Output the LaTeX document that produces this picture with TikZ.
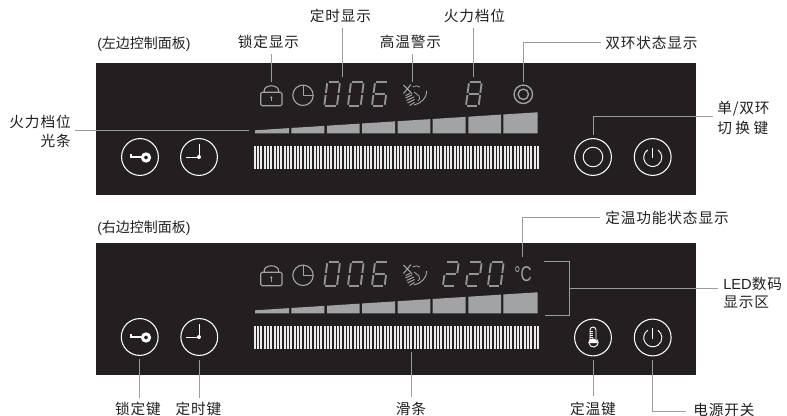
\documentclass[tikz,border=0pt]{standalone}
\usepackage{fontspec}
\setmainfont{Liberation Sans}
\newfontfamily\cjk[LetterSpace=6]{Noto Sans CJK SC}
\newfontfamily\cjkp{Noto Sans CJK SC}
\definecolor{panel}{HTML}{231F20}
\definecolor{lead}{HTML}{9C9C9C}
\definecolor{led}{HTML}{A2A3A5}
\definecolor{ledd}{HTML}{939496}
\definecolor{txt}{HTML}{231F20}
\tikzset{
  x=0.75pt,y=-0.75pt,
  lab/.style={inner sep=0pt,text=txt,font=\fontsize{11pt}{13pt}\selectfont\cjk},
  leader/.style={draw=lead,line width=0.75pt},
  panelbox/.style={fill=panel,draw=none},
  btn/.style={circle,draw=white,line width=0.8pt,minimum size=27.6pt,inner sep=0pt},
  ico/.style={draw=led,line width=0.85pt},
  seg/.style={draw=ledd,line width=1.4pt},
  wht/.style={draw=white,line width=0.7pt}
}
\newcommand{\leddigit}[3]{%
  \begin{scope}[shift={(#1,#2)},xslant=0.13]
    \foreach \s in {#3}{%
      \ifcase\s
        \draw[seg] (1.2,0)--(11.5,0);\or
        \draw[seg] (12.7,1)--(12.7,10.7);\or
        \draw[seg] (12.7,12.7)--(12.7,22.4);\or
        \draw[seg] (1.2,23.4)--(11.5,23.4);\or
        \draw[seg] (0,12.7)--(0,22.4);\or
        \draw[seg] (0,1)--(0,10.7);\or
        \draw[seg] (1.2,11.7)--(11.5,11.7);\fi}
  \end{scope}}
\newcommand{\lockclock}[1]{%
  \begin{scope}[yshift=-#1*0.75pt]
    \draw[ico,rounded corners=1pt] (260.7,92.3) rectangle (282,105.7);
    \draw[ico] (264.2,92.3) -- (264.2,90.6) arc[start angle=180,end angle=0,x radius=7.2,y radius=-4.8] -- (278.6,92.3);
    \fill[led] (271.3,97.4) circle[radius=1.2];
    \draw[led,line width=0.7pt] (271.3,97.4)--(271.3,101.5);
    \draw[ico] (303,95.3) circle[radius=10.2];
    \draw[ico,line width=0.7pt] (303,85.2)--(303,95.3)--(313,95.3);
    \leddigit{327.3}{82.3}{0,1,2,3,4,5}
    \leddigit{351}{82.3}{0,1,2,3,4,5}
    \leddigit{375}{82.3}{0,2,3,4,5,6}
    % hand icon
    \draw[ico,line width=0.8pt] (403.5,85)--(412,93.8) (411,84.5)--(403.5,93.5);
    \draw[ico,line width=0.6pt] (412.5,87) .. controls (415,85.5) and (418,85.5) .. (420,87);
    \draw[ico,line width=0.7pt] (426.7,91) .. controls (427,98) and (421,103.5) .. (414,105);
    \draw[ico,line width=0.6pt] (414,92) -- (419,96) .. controls (420,98) and (420,100) .. (418,101);
    \foreach \a/\b/\c/\d in {405.5/95.5/410/93.5, 405.5/98/412/95, 406.5/100.5/414/97, 407.5/103/414.5/99.5, 409.5/105.5/414.5/102.5}
      \draw[led,line width=0.75pt] (\a,\b)--(\c,\d);
  \end{scope}}
\newcommand{\barsrow}[1]{%
  \begin{scope}[yshift=-#1*0.75pt]
    \foreach \l/\r in {255/289,291.3/324.3,327/359.7,362/395,397.7/430.3,432.7/465.7,468.3/501,503.3/537.7}{%
      \pgfmathsetmacro{\tl}{130.3-(\l-255)*0.0637}
      \pgfmathsetmacro{\tr}{130.3-(\r-255)*0.0637}
      \fill[led] (\l,133.4)--(\l,\tl)--(\r,\tr)--(\r,133.4)--cycle;}
    \foreach \i in {0,...,85}{%
      \pgfmathsetmacro{\xx}{253.6+\i*3.333}
      \fill[white!92!black] (\xx,145.7) rectangle ++(2,23.6);}
  \end{scope}}
\begin{document}
\begin{tikzpicture}
\useasboundingbox (0,0) rectangle (787,416);
\fill[white] (0,0) rectangle (787,416);
\path[panelbox] (96,63) rectangle (696,195);
\path[panelbox] (96,243) rectangle (696,375);
\lockclock{0}
\lockclock{180}
\barsrow{0}
\barsrow{180}
\leddigit{469}{82.3}{0,1,2,3,4,5,6}
\draw[ico,line width=1pt] (523.3,94.3) circle[radius=9.2];
\draw[ico,line width=1pt] (523.3,94.3) circle[radius=5.2];
\leddigit{446}{262.3}{0,1,6,4,3}
\leddigit{469}{262.3}{0,1,6,4,3}
\leddigit{491}{262.3}{0,1,2,3,4,5}
\node[inner sep=0pt,text=led,xscale=0.72,font=\fontsize{16pt}{18pt}\selectfont] (degc) at (523,274.5) {°C};
% buttons
\node[btn] (keyA) at (140,157) {};
\node[btn] (clkA) at (199,157) {};
\node[btn] (dual) at (593,157) {};
\node[btn] (powA) at (652.7,157) {};
\node[btn] (keyB) at (139.7,337) {};
\node[btn] (clkB) at (199.3,337) {};
\node[btn] (therm) at (593,337.5) {};
\node[btn] (powB) at (652.7,337.5) {};
% key and clock glyphs
\foreach \yy in {157,337}{%
  \fill[white] (130,\yy-1.3) rectangle (143,\yy+0.8);
  \fill[white] (130,\yy-3) rectangle (132,\yy+0.8);
  \fill[white,even odd rule] (146,\yy+0.5) circle[radius=5.2] (146,\yy+0.5) circle[radius=2];
  \draw[wht] (199,\yy-13)--(199,\yy)--(186,\yy);
  \fill[white] (199,\yy) circle[radius=2];
}
\draw[wht] (593,157) circle[radius=9.8];
\foreach \yy in {157.3,337.6}{%
  \draw[wht] (652.7,\yy-9.3)--(652.7,\yy+1);
  \draw[wht] (647.7,\yy-7.4) arc[start angle=-124,delta angle=-292,radius=9.1];
}
% thermometer
\draw[wht] (590,339.5) -- (590,330) arc[start angle=180,end angle=0,x radius=3,y radius=-3] -- (596,339.5);
\draw[wht] (590,339.5) arc[start angle=140,delta angle=260,x radius=4.6,y radius=-4.6];
\fill[white] (588.4,343) arc[start angle=180,end angle=0,x radius=4.6,y radius=-4.6] -- cycle;
\foreach \yy in {331,333,335,337,339}{\draw[white,line width=0.4pt] (590,\yy)--(593,\yy);}
% labels
\node[lab] (tDing) at (340.5,16) {定时显示};
\node[lab] (tLock) at (268.5,42) {锁定显示};
\node[lab] (tHot) at (410.5,42) {高温警示};
\node[lab] (tFire) at (474.5,16) {火力档位};
\node[lab,anchor=west] (tRing) at (605,43) {双环状态显示};
\node[inner sep=0pt,anchor=west,text=txt,font=\fontsize{10.5pt}{12pt}\selectfont] (tLeft) at (97,44.5) {(\cjkp 左边控制面板\rmfamily)};
\node[inner sep=0pt,anchor=west,text=txt,font=\fontsize{10.5pt}{12pt}\selectfont] (tRight) at (97,228) {(\cjkp 右边控制面板\rmfamily)};
\node[lab,anchor=east] (tBar) at (71,122) {火力档位};
\node[lab,anchor=east] (tBarB) at (71,141) {光条};
\node[lab,anchor=west] (tSwA) at (717,109) {单/双环};
\node[lab,anchor=west] (tSwB) at (717,128) {切\hspace{2.6pt}换\hspace{2.6pt}键};
\node[lab,anchor=west] (tTemp) at (605,218) {定温功能状态显示};
\node[lab,anchor=west] (tLedA) at (723,284) {\fontsize{11pt}{13pt}\selectfont\rmfamily LED\cjk 数码};
\node[lab,anchor=west] (tLedB) at (723,302) {显示区};
\node[lab] (tKey) at (138,409) {锁定键};
\node[lab] (tClk) at (198.5,409) {定时键};
\node[lab] (tSlide) at (411,409) {滑条};
\node[lab] (tTmp) at (593,409) {定温键};
\node[lab,anchor=west] (tPow) at (693,410) {电源开关};
% leader end points
\coordinate (eLock) at (271,82);
\coordinate (eLockT) at (271,54);
\coordinate (eDing) at (342,77);
\coordinate (eDingT) at (342,28);
\coordinate (eHot) at (412.3,82);
\coordinate (eHotT) at (412.3,54);
\coordinate (eFire) at (473,77);
\coordinate (eFireT) at (473,28);
\coordinate (eRing) at (523,82);
\coordinate (eBar) at (249,131);
\coordinate (eSw) at (593,135);
\coordinate (eTemp) at (522.7,256.7);
\coordinate (eSlideA) at (411,352);
\coordinate (eSlideB) at (411,397);
\coordinate (bTR) at (569.3,261.7);
\coordinate (bBR) at (569.3,315.3);
\coordinate (bTL) at (544,261.7);
\coordinate (bBL) at (545.3,315.3);
\coordinate (bMid) at (569.3,288.7);
% leaders
\draw[leader] (eLockT)--(eLock);
\draw[leader] (eDingT)--(eDing);
\draw[leader] (eHotT)--(eHot);
\draw[leader] (eFireT)--(eFire);
\draw[leader] (eRing)|-([xshift=-3pt]tRing.west);
\draw[leader] ([xshift=3pt]tBar.east |- eBar)--(eBar);
\draw[leader] (eSw)|-(712.7,116.7);
\draw[leader] (eTemp)|-([xshift=-3.5pt]tTemp.west);
\draw[leader] (bTL)--(bTR)--(bBR)--(bBL);
\draw[leader] (bMid)--(718,288.7);
\draw[leader] (eSlideA)--(eSlideB);
\draw[leader] (139.7,359.3)--(139.7,398);
\draw[leader] (199.7,360)--(199.7,398);
\draw[leader] (593,360)--(593,395.7);
\draw[leader] (652.7,360)|-(686,411.3);
\end{tikzpicture}
\end{document}
